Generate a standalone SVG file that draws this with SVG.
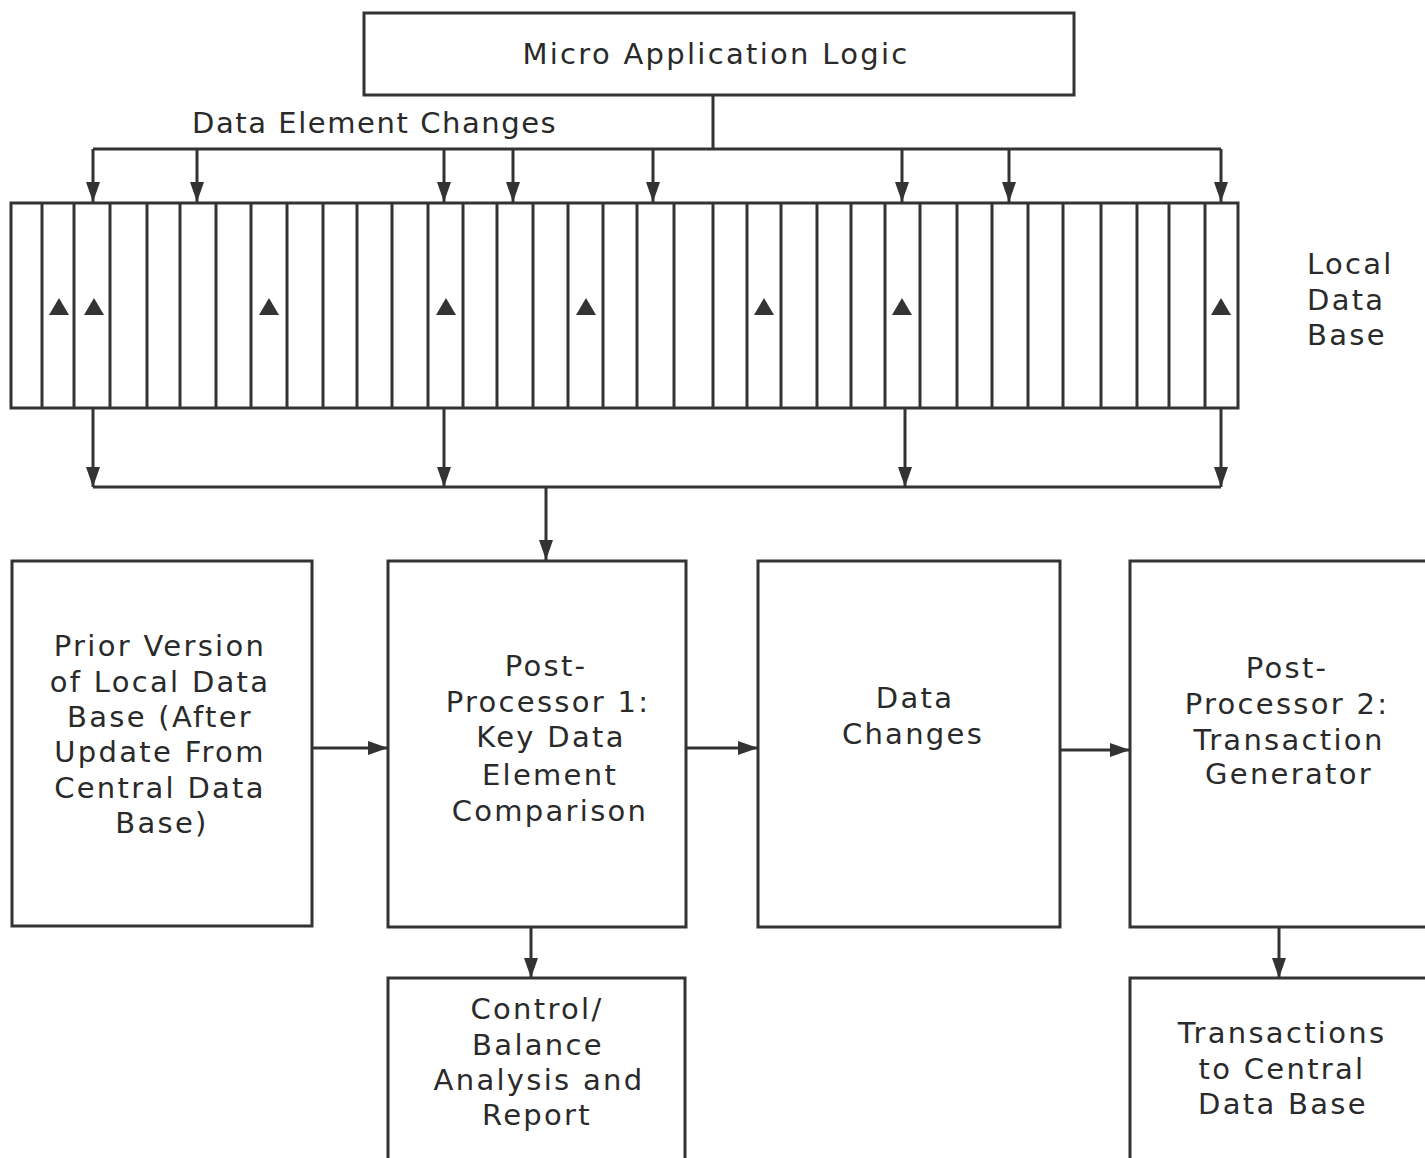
<svg xmlns="http://www.w3.org/2000/svg" width="1425" height="1158" viewBox="0 0 1425 1158">
<style>
.box{fill:#fff;stroke:#333;stroke-width:3}
.ln{fill:none;stroke:#333;stroke-width:3}
.dv{stroke:#333;stroke-width:3}
.t{font-family:"DejaVu Sans","Liberation Sans",sans-serif;font-size:29px;fill:#2a2a2a;letter-spacing:2.3px}
.c{text-anchor:middle}
.tri{fill:#333}
</style>
<defs>
<marker id="ah" viewBox="0 0 20 14" refX="20" refY="7" markerWidth="20" markerHeight="14" markerUnits="userSpaceOnUse" orient="auto">
<path d="M0,0 L20,7 L0,14 z" fill="#333"/>
</marker>
</defs>
<rect width="1425" height="1158" fill="#fff"/>

<g id="micro">
<rect class="box" x="364" y="13" width="710" height="82"/>
<text class="t c" x="716" y="64">Micro Application Logic</text>
</g>

<g id="local-db">
<rect class="box" x="11" y="203" width="1227" height="205"/>
<g class="dv">
<line x1="42" y1="203" x2="42" y2="408"/><line x1="74" y1="203" x2="74" y2="408"/><line x1="110" y1="203" x2="110" y2="408"/><line x1="147" y1="203" x2="147" y2="408"/><line x1="180" y1="203" x2="180" y2="408"/><line x1="216" y1="203" x2="216" y2="408"/><line x1="251" y1="203" x2="251" y2="408"/><line x1="287" y1="203" x2="287" y2="408"/><line x1="323" y1="203" x2="323" y2="408"/><line x1="357" y1="203" x2="357" y2="408"/><line x1="392" y1="203" x2="392" y2="408"/><line x1="428" y1="203" x2="428" y2="408"/><line x1="463" y1="203" x2="463" y2="408"/><line x1="497" y1="203" x2="497" y2="408"/><line x1="533" y1="203" x2="533" y2="408"/><line x1="568" y1="203" x2="568" y2="408"/><line x1="603" y1="203" x2="603" y2="408"/><line x1="637" y1="203" x2="637" y2="408"/><line x1="674" y1="203" x2="674" y2="408"/><line x1="713" y1="203" x2="713" y2="408"/><line x1="747" y1="203" x2="747" y2="408"/><line x1="781" y1="203" x2="781" y2="408"/><line x1="817" y1="203" x2="817" y2="408"/><line x1="851" y1="203" x2="851" y2="408"/><line x1="885" y1="203" x2="885" y2="408"/><line x1="920" y1="203" x2="920" y2="408"/><line x1="957" y1="203" x2="957" y2="408"/><line x1="992" y1="203" x2="992" y2="408"/><line x1="1028" y1="203" x2="1028" y2="408"/><line x1="1063" y1="203" x2="1063" y2="408"/><line x1="1101" y1="203" x2="1101" y2="408"/><line x1="1137" y1="203" x2="1137" y2="408"/><line x1="1169" y1="203" x2="1169" y2="408"/><line x1="1205" y1="203" x2="1205" y2="408"/>
</g>
<g class="tri">
<path d="M49,315 L59,298 L69,315 z"/><path d="M84,315 L94,298 L104,315 z"/><path d="M259,315 L269,298 L279,315 z"/><path d="M436,315 L446,298 L456,315 z"/><path d="M576,315 L586,298 L596,315 z"/><path d="M754,315 L764,298 L774,315 z"/><path d="M892,315 L902,298 L912,315 z"/><path d="M1211,315 L1221,298 L1231,315 z"/>
</g>
<text class="t" x="1307" y="274">Local</text>
<text class="t" x="1307" y="310">Data</text>
<text class="t" x="1307" y="345">Base</text>
</g>

<g id="prior">
<rect class="box" x="12" y="561" width="300" height="365"/>
<text class="t c" x="160" y="656">Prior Version</text>
<text class="t c" x="160" y="692">of Local Data</text>
<text class="t c" x="160" y="727">Base (After</text>
<text class="t c" x="160" y="762">Update From</text>
<text class="t c" x="160" y="798">Central Data</text>
<text class="t c" x="162" y="833">Base)</text>
</g>

<g id="pp1">
<rect class="box" x="388" y="561" width="298" height="366"/>
<text class="t c" x="546" y="676">Post-</text>
<text class="t c" x="548" y="712">Processor 1:</text>
<text class="t c" x="551" y="747">Key Data</text>
<text class="t c" x="550" y="785">Element</text>
<text class="t c" x="550" y="821">Comparison</text>
</g>

<g id="data-changes">
<rect class="box" x="758" y="561" width="302" height="366"/>
<text class="t c" x="915" y="708">Data</text>
<text class="t c" x="913" y="744">Changes</text>
</g>

<g id="pp2">
<rect class="box" x="1130" y="561" width="310" height="366"/>
<text class="t c" x="1287" y="678">Post-</text>
<text class="t c" x="1287" y="714">Processor 2:</text>
<text class="t c" x="1289" y="750">Transaction</text>
<text class="t c" x="1289" y="784">Generator</text>
</g>

<g id="control">
<rect class="box" x="388" y="978" width="297" height="200"/>
<text class="t c" x="537" y="1019">Control/</text>
<text class="t c" x="538" y="1055">Balance</text>
<text class="t c" x="539" y="1090">Analysis and</text>
<text class="t c" x="537" y="1125">Report</text>
</g>

<g id="transactions">
<rect class="box" x="1130" y="978" width="310" height="200"/>
<text class="t c" x="1282" y="1043">Transactions</text>
<text class="t c" x="1282" y="1079">to Central</text>
<text class="t c" x="1283" y="1114">Data Base</text>
</g>

<g id="connectors">
<text class="t" x="192" y="133" textLength="366" lengthAdjust="spacing">Data Element Changes</text>
<path class="ln" d="M713,95 V149 M93,149 H1221"/>
<path class="ln" marker-end="url(#ah)" d="M93,149 V202"/>
<path class="ln" marker-end="url(#ah)" d="M197,149 V202"/>
<path class="ln" marker-end="url(#ah)" d="M444,149 V202"/>
<path class="ln" marker-end="url(#ah)" d="M513,149 V202"/>
<path class="ln" marker-end="url(#ah)" d="M653,149 V202"/>
<path class="ln" marker-end="url(#ah)" d="M902,149 V202"/>
<path class="ln" marker-end="url(#ah)" d="M1009,149 V202"/>
<path class="ln" marker-end="url(#ah)" d="M1221,149 V202"/>
<path class="ln" marker-end="url(#ah)" d="M93,408 V487"/>
<path class="ln" marker-end="url(#ah)" d="M444,408 V487"/>
<path class="ln" marker-end="url(#ah)" d="M905,408 V487"/>
<path class="ln" marker-end="url(#ah)" d="M1221,408 V487"/>
<path class="ln" d="M93,487 H1221"/>
<path class="ln" marker-end="url(#ah)" d="M546,487 V560"/>
<path class="ln" marker-end="url(#ah)" d="M312,748 H388"/>
<path class="ln" marker-end="url(#ah)" d="M686,748 H758"/>
<path class="ln" marker-end="url(#ah)" d="M1060,750 H1130"/>
<path class="ln" marker-end="url(#ah)" d="M531,927 V978"/>
<path class="ln" marker-end="url(#ah)" d="M1279,927 V978"/>
</g>
</svg>
